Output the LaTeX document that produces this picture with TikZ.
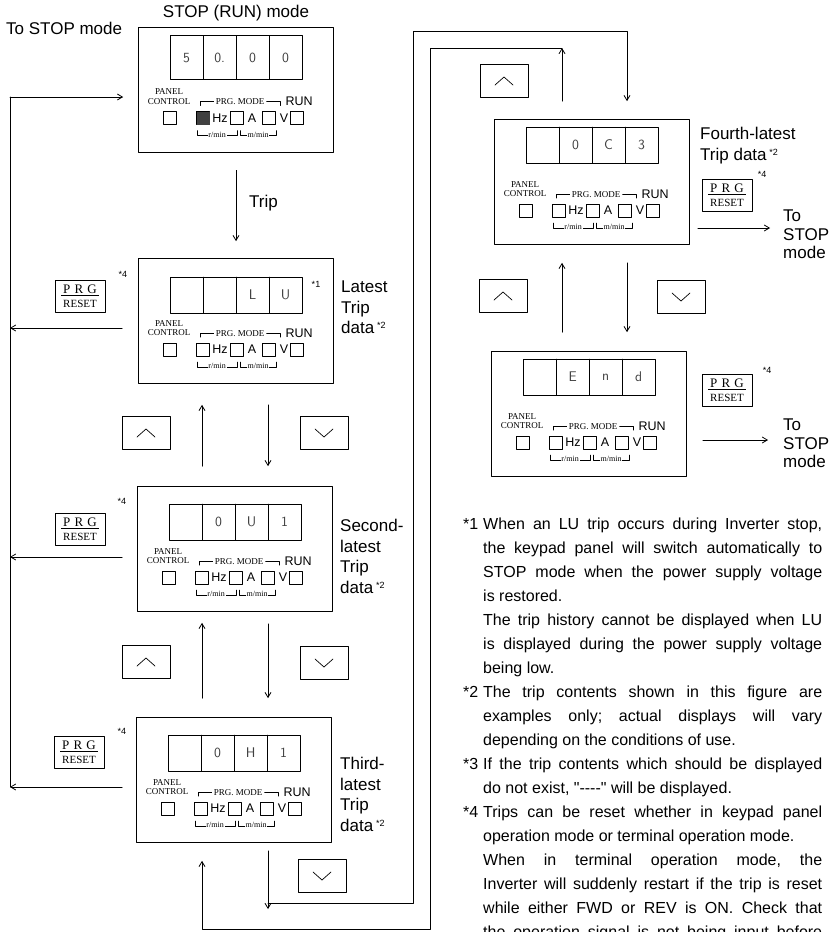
\documentclass[tikz,border=0pt]{standalone}
\usepackage{fontspec}
\setmainfont{Liberation Sans}
\newfontfamily\lblserif{Liberation Serif}
\newfontfamily\notesans[Ligatures=TeXOff]{Liberation Sans}
\usetikzlibrary{arrows.meta}

\newcommand\fnmark[1]{\,\raisebox{5pt}{\fontsize{9}{9}\selectfont *#1}}
\newcommand\prgreset{{\fontsize{13}{13}\selectfont\underline{\makebox[38pt][s]{\,P\hfill R\hfill G\,}}}\\[2pt]{\fontsize{11}{11}\selectfont RESET}}

\tikzset{
  panel/.style={draw, line width=0.8pt, minimum width=195pt, minimum height=125pt, inner sep=0pt},
  cellline/.style={line width=0.6pt},
  wire/.style={line width=0.8pt},
  flow/.style={line width=0.8pt, ->},
  segtext/.style={font=\fontsize{14}{14}\sffamily, text=black!75, inner sep=0pt},
  ctltext/.style={font=\lblserif\fontsize{9}{9.5}\selectfont, inner sep=0pt},
  unittext/.style={font=\fontsize{12.5}{13}\selectfont, inner sep=0pt},
  rpmtext/.style={font=\lblserif\fontsize{8}{8}\selectfont, inner sep=0.8pt, fill=white},
  lbl/.style={font=\fontsize{17}{20.5}\selectfont, inner sep=0pt},
  stoplbl/.style={font=\fontsize{17}{18.5}\selectfont, inner sep=0pt, align=left},
  starmark/.style={font=\fontsize{9}{9}\selectfont, inner sep=0pt},
  prgkey/.style={draw, line width=0.7pt, font=\lblserif, align=center, inner sep=3pt, minimum width=50pt, minimum height=32pt},
  keyup/.style={draw, line width=0.6pt, minimum width=48pt, minimum height=33pt,
    path picture={\draw[line width=0.7pt] ([xshift=-9pt,yshift=-4pt]path picture bounding box.center) -- ++(9pt,8pt) -- ++(9pt,-8pt);}},
  keydown/.style={draw, line width=0.6pt, minimum width=48pt, minimum height=33pt,
    path picture={\draw[line width=0.7pt] ([xshift=-9pt,yshift=4pt]path picture bounding box.center) -- ++(9pt,-8pt) -- ++(9pt,8pt);}},
  notes/.style={font=\notesans\fontsize{16}{24}\selectfont, inner sep=0pt, text width=359pt, align=justify},
}

% 面板内容：#1 名称，#2/#3 数码格上下，#4 四位字符
\newcommand\keypad[4]{%
  \begin{scope}[shift={(#1.north west)}]
    \draw[cellline] (32,#2) rectangle (164,#3);
    \foreach \k in {1,2,3} \draw[cellline] ({32+33*\k},#2) -- ({32+33*\k},#3);
    \foreach \d [count=\k from 0] in {#4}
      \node[segtext] (#1d\k) at ({48.5+33*\k},{(#2+#3)/2}) {\d};
    \node[ctltext, align=center] (#1pc) at (31,70) {PANEL\\CONTROL};
    \node[ctltext] (#1pm) at (102,75) {PRG. MODE};
    \draw[cellline] (62,79) -- (62,75) -- ([xshift=-2pt]#1pm.west);
    \draw[cellline] ([xshift=2pt]#1pm.east) -- (142,75) -- (142,79);
    \node[unittext] (#1run) at (161,75) {RUN};
    \foreach \sx in {32,65,99,131,159}
      \draw[cellline] ({\sx-6.5},85) rectangle ({\sx+6.5},98);
    \node[unittext] (#1hz) at (82,91.5) {Hz};
    \node[unittext] (#1a) at (114,91.5) {A};
    \node[unittext] (#1v) at (146,91.5) {V};
    \draw[cellline] (59,104) -- (59,109) -- (99,109) -- (99,104);
    \draw[cellline] (102,104) -- (102,109) -- (138,109) -- (138,104);
    \node[rpmtext] (#1r) at (79,108) {r/min};
    \node[rpmtext] (#1m) at (120,108) {m/min};
  \end{scope}}

\begin{document}
\begin{tikzpicture}[x=1pt,y=-1pt,line cap=round,line join=round,>={Straight Barb[length=5pt,width=6pt]}]
  \useasboundingbox (0,0) rectangle (835,932);
  \clip (0,0) rectangle (835,932);
  % 六个面板
  \node[panel] (stop) at (236,89.5) {};
  \node[panel] (lu) at (236,321) {};
  \node[panel] (ou) at (235,549) {};
  \node[panel] (oh) at (234,780) {};
  \node[panel] (oc) at (592,182) {};
  \node[panel] (fin) at (589,414) {};
  \keypad{stop}{9}{53}{5,0.,0,0}
  \keypad{lu}{19}{55}{{},{},L,U}
  \keypad{ou}{18}{54}{{},0,U,1}
  \keypad{oh}{18}{54}{{},0,H,1}
  \keypad{oc}{8}{44}{{},0,C,3}
  \keypad{fin}{8}{44}{{},E,n,d}
  \fill[black!75] ([shift={(58.5,85)}]stop.north west) rectangle ([shift={(71.5,98)}]stop.north west);
  \node[lbl] (title) at (236,13) {STOP (RUN) mode};
  \node[lbl, anchor=west] (tostop) at (6,28) {To STOP mode};
  % 左侧返回线
  \coordinate (back) at (10,97);
  \coordinate (bus1) at (10,328);
  \coordinate (bus2) at (10,557);
  \coordinate (bus3) at (10,787);
  \draw[wire] (bus3) -- (back);
  \draw[flow, shorten >=15pt] (back) -- (stop.west |- back);
  \draw[flow, shorten <=16pt] (lu.west |- bus1) -- (bus1);
  \draw[flow, shorten <=15pt] (ou.west |- bus2) -- (bus2);
  \draw[flow, shorten <=14pt] (oh.west |- bus3) -- (bus3);
  % 面板之间
  \draw[flow, shorten <=18pt, shorten >=17pt] (stop.south) -- (lu.north);
  \node[lbl, anchor=west] (trip) at (249,203) {Trip};
  \coordinate (upL) at (202,0);
  \coordinate (dnL) at (268,0);
  \coordinate (upR) at (562,0);
  \coordinate (dnR) at (627,0);
  \draw[flow, shorten <=20pt, shorten >=21pt] (ou.north -| upL) -- (lu.south -| upL);
  \draw[flow, shorten <=21pt, shorten >=20pt] (lu.south -| dnL) -- (ou.north -| dnL);
  \draw[flow, shorten <=19pt, shorten >=11pt] (oh.north -| upL) -- (ou.south -| upL);
  \draw[flow, shorten <=12pt, shorten >=19pt] (ou.south -| dnL) -- (oh.north -| dnL);
  \draw[flow, shorten <=19pt, shorten >=18pt] (fin.north -| upR) -- (oc.south -| upR);
  \draw[flow, shorten <=18pt, shorten >=19pt] (oc.south -| dnR) -- (fin.north -| dnR);
  % 第三与第四之间的绕行线
  \coordinate (loopA) at (413,903);
  \coordinate (loopB) at (430,929);
  \coordinate (topA) at (413,31);
  \coordinate (topB) at (430,48);
  \draw[flow, shorten <=8pt] (oh.south -| dnL) -- (dnL |- 0,909);
  \draw[flow, shorten >=18pt] (dnL |- loopA) -- (loopA) -- (topA) -- (dnR |- topA) -- (oc.north -| dnR);
  \draw[flow, shorten <=18pt] (oc.north -| upR) -- (upR |- topB);
  \draw[flow, shorten >=18pt] (upR |- topB) -- (topB) -- (loopB) -- (upL |- loopB) -- (oh.south -| upL);
  % 按键
  \node[keyup] (ku1) at (146,433) {};
  \node[keydown] (kd1) at (324,433) {};
  \node[keyup] (ku2) at (146,662) {};
  \node[keydown] (kd2) at (324,663) {};
  \node[keydown] (kd3) at (322,876) {};
  \node[keyup] (ku4) at (504,81) {};
  \node[keyup] (ku5) at (503,296) {};
  \node[keydown] (kd5) at (681,297) {};
  \node[prgkey] (rs1) at (80,296) {\prgreset};
  \node[prgkey] (rs2) at (80,529) {\prgreset};
  \node[prgkey] (rs3) at (79,752) {\prgreset};
  \node[prgkey] (rs4) at (727,195) {\prgreset};
  \node[prgkey] (rs5) at (727,390) {\prgreset};
  \node[starmark] (st1) at (123,274) {*4};
  \node[starmark] (st2) at (122,501) {*4};
  \node[starmark] (st3) at (122,731) {*4};
  \node[starmark] (st4) at (762,174) {*4};
  \node[starmark] (st5) at (767,370) {*4};
  \node[starmark] (st0) at (316,284) {*1};
  % 右侧说明
  \node[lbl, align=left, anchor=north west] (lulbl) at (341,281) {Latest\\Trip\\data\fnmark{2}};
  \node[lbl, align=left, anchor=north west] (oulbl) at (340,519) {Second-\\latest\\Trip\\data\fnmark{2}};
  \node[lbl, align=left, anchor=north west] (ohlbl) at (340,757) {Third-\\latest\\Trip\\data\fnmark{2}};
  \node[lbl, align=left, anchor=north west] (oclbl) at (700,127) {Fourth-latest\\Trip data\fnmark{2}};
  \coordinate (out1) at (770,228);
  \coordinate (out2) at (768,440);
  \draw[flow, shorten <=8pt] (oc.east |- out1) -- (out1);
  \draw[flow, shorten <=16pt] (fin.east |- out2) -- (out2);
  \node[stoplbl, anchor=north west] (to1) at (783,210) {To\\STOP\\mode};
  \node[stoplbl, anchor=north west] (to2) at (783,419) {To\\STOP\\mode};
  % 注释
  \node[notes, anchor=north west] (notes) at (463,518) {\tolerance=10000\hyphenpenalty=10000\frenchspacing
    \noindent\hangindent=20pt\hangafter=1\makebox[20pt][l]{*1}When an LU trip occurs during Inverter stop,\linebreak
    the keypad panel will switch automatically to\linebreak
    STOP mode when the power supply voltage\linebreak
    is restored.\par
    \leftskip=20pt The trip history cannot be displayed when LU\linebreak
    is displayed during the power supply voltage\linebreak
    being low.\par
    \leftskip=0pt\noindent\hangindent=20pt\hangafter=1\makebox[20pt][l]{*2}The trip contents shown in this figure are\linebreak
    examples only; actual displays will vary\linebreak
    depending on the conditions of use.\par
    \noindent\hangindent=20pt\hangafter=1\makebox[20pt][l]{*3}If the trip contents which should be displayed\linebreak
    do not exist, "----" will be displayed.\par
    \noindent\hangindent=20pt\hangafter=1\makebox[20pt][l]{*4}Trips can be reset whether in keypad panel\linebreak
    operation mode or terminal operation mode.\par
    \leftskip=20pt When in terminal operation mode, the\linebreak
    Inverter will suddenly restart if the trip is reset\linebreak
    while either FWD or REV is ON. Check that\linebreak
    the operation signal is not being input before\parfillskip=0pt\par};
\end{tikzpicture}
\end{document}
